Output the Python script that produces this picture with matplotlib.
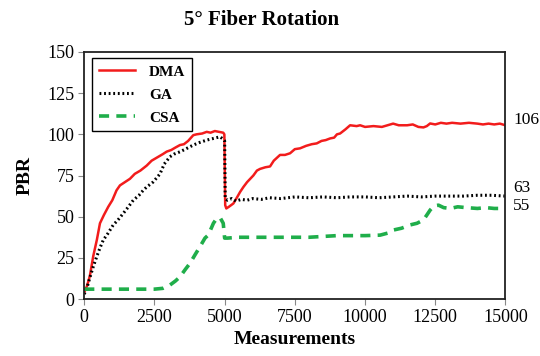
import matplotlib
matplotlib.use('Agg')
import matplotlib.pyplot as plt

# values
dma_x = [0, 100, 200, 320, 450, 560, 700, 855, 1000, 1150, 1272, 1450, 1628, 1800, 2000,
         2223, 2400, 2600, 2800, 2936, 3100, 3250, 3410, 3550, 3700, 3884, 4000, 4200, 4361,
         4500, 4650, 4800, 4950, 4990, 5020, 5060, 5150, 5310, 5450, 5550, 5667, 5800, 6022,
         6150, 6260, 6450, 6617, 6750, 6973, 7150, 7330, 7500, 7686, 7900, 8100, 8280, 8450,
         8600, 8755, 8900, 9000, 9111, 9300, 9468, 9700, 9824, 10000, 10300, 10600, 10800,
         11000, 11200, 11500, 11700, 11900, 12080, 12200, 12318, 12500, 12700, 12900, 13100,
         13400, 13700, 14000, 14200, 14400, 14600, 14800, 15000]
dma_y = [4, 8, 14, 26, 36, 46, 51, 56, 60, 66, 69, 71, 73, 76, 78,
         81, 84, 86, 88, 89.5, 90.5, 92, 93.5, 94, 96, 99.5, 100, 100.5, 101.5,
         101, 102, 101.5, 101, 100, 57, 55, 56, 58, 62, 65, 68, 71, 75,
         78, 79, 80, 80.5, 84, 87.5, 87.5, 88.5, 91, 91.5, 93, 94, 94.5, 96,
         96.5, 97.5, 98, 100, 100.5, 103, 105.5, 105, 105.5, 104.5, 105, 104.5, 105.5,
         106.5, 105.5, 105.5, 106, 104.5, 104.2, 105, 106.6, 106, 107, 106.5, 107,
         106.5, 107, 106.5, 106, 106.5, 106, 106.5, 105.5]

ga_x = [0, 100, 200, 320, 450, 560, 677, 850, 1033, 1200, 1390, 1550, 1746, 1950, 2100,
        2223, 2450, 2600, 2697, 2850, 3053, 3200, 3410, 3600, 3884, 4100, 4361, 4600, 4836,
        4950, 5000, 5020, 5100, 5250, 5400, 5600, 5800, 6000, 6300, 6600, 7000, 7500, 8000,
        8500, 9000, 9468, 10000, 10500, 11000, 11500, 12000, 12500, 13000, 13500, 14000,
        14500, 15000]
ga_y = [3, 7, 13, 19.6, 26, 31, 35.8, 40, 45, 48, 52, 55.5, 60, 63, 66,
        68, 71, 74, 76, 82, 86.4, 88, 89.4, 91, 93.5, 95, 96.5, 97.5, 98.5,
        97, 96, 61, 60, 61, 59.5, 60.5, 60, 61, 60.5, 61.5, 61, 62, 61.5,
        62, 61.5, 62, 62, 61.5, 62, 62.5, 62, 62.5, 62.5, 62.5, 63,
        63, 62.5]

csa_x = [0, 500, 1000, 1500, 2000, 2500, 2800, 3053, 3250, 3410, 3600, 3766, 3950, 4122,
         4300, 4420, 4600, 4700, 4836, 4950, 5000, 5100, 5500, 6000, 6500, 7000, 7500, 8000,
         8500, 9000, 9500, 10000, 10537, 10800, 11011, 11300, 11605, 11850, 12080, 12200,
         12318, 12450, 12615, 12800, 13040, 13300, 13600, 14000, 14300, 14600, 15000]
csa_y = [6, 6, 6, 6, 6, 6, 6.5, 8.5, 11, 13.5, 18, 21.7, 27, 31.8,
         37, 38.9, 46, 48.5, 49.5, 46, 37, 37, 37.5, 37.5, 37.5, 37.5, 37.5, 37.5,
         38, 38.5, 38.5, 38.5, 38.8, 40, 41.9, 43, 45, 46, 48, 51,
         54, 56.5, 57, 55.5, 55, 56, 55.5, 55, 55.5, 55, 55]

end_labels = ['106', '63', '55']
end_label_y = [108.5, 67.5, 56.5]

plt.rcParams['font.family'] = ['Liberation Serif', 'DejaVu Serif']

fig = plt.figure(figsize=(5.4, 3.56), dpi=100)
ax = fig.add_axes([0.156, 0.160, 0.780, 0.694])

ax.plot(dma_x, dma_y, color='#f21c1c', lw=1.8, label='DMA')
ax.plot(ga_x, ga_y, color='black', lw=2.2, linestyle=(0, (0.6, 0.9)), label='GA')
ax.plot(csa_x, csa_y, color='#1fae4a', lw=2.6, linestyle=(0, (2.8, 2.0)), label='CSA')

ax.set_xlim(0, 15000)
ax.set_ylim(0, 150)
ax.set_xticks(range(0, 15001, 2500))
ax.set_yticks(range(0, 151, 25))
ax.tick_params(labelsize=13, length=4, width=0.8, color='#888888', pad=3)

for side in ['top', 'right', 'left', 'bottom']:
    ax.spines[side].set_linewidth(1.3)
    ax.spines[side].set_color('#222222')

ax.set_xlabel('Measurements', fontsize=14, fontweight='bold', labelpad=4)
ax.set_ylabel('PBR', fontsize=14, fontweight='bold', labelpad=10)
fig.text(0.485, 0.945, '5° Fiber Rotation', fontsize=15, fontweight='bold',
         ha='center', va='center')

# values at the end of each line
for txt, yv in zip(end_labels, end_label_y):
    ax.annotate(txt, xy=(1.018, yv), xycoords=('axes fraction', 'data'),
                fontsize=12.5, va='center', ha='left', annotation_clip=False)

leg = ax.legend(loc='upper left', bbox_to_anchor=(0.0176, 0.9745), borderaxespad=0,
                frameon=True, fancybox=False, edgecolor='black', framealpha=1,
                prop={'size': 11, 'weight': 'bold'}, handlelength=2.4,
                labelspacing=0.6, borderpad=0.45, handletextpad=0.9)
leg.get_frame().set_linewidth(1.0)

fig.savefig('out.png', dpi=100)
